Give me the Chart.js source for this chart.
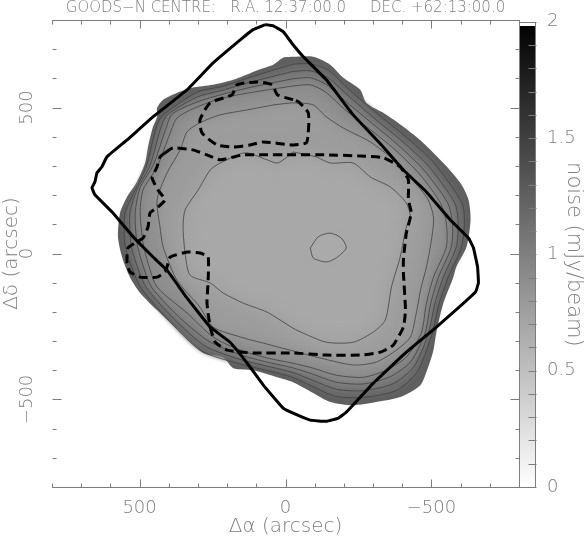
<!DOCTYPE html>
<html>
<head>
<meta charset="utf-8">
<script src="https://cdn.jsdelivr.net/npm/chart.js@4"></script>
<style>
  body { margin: 0; background: #fff; }
  canvas { position: absolute; top: 0; }
</style>
</head>
<body>
<canvas id="map" width="586" height="540" style="left:0"></canvas>
<canvas id="bar" width="67" height="540" style="left:519px"></canvas>
<script>
// everything in arcsec
const xTickLabels = [500, 0, -500];
const yTickLabels = [500, 0, -500];
const barTickLabels = [0, 0.5, 1, 1.5, 2];
const barRange = [0, 1.98];

const solidBox = [[70,784],[111,767],[155,732],[248,653],[337,561],[454,468],[543,389],[612,331],[629,297],[646,276],[653,245],[663,225],[653,201],[591,139],[522,57],[454,-12],[406,-57],[337,-153],[258,-252],[190,-304],[131,-376],[76,-451],[8,-530],[-26,-547],[-85,-571],[-140,-575],[-181,-564],[-208,-544],[-301,-444],[-414,-338],[-517,-252],[-651,-132],[-661,-101],[-658,-46],[-644,19],[-627,53],[-565,115],[-483,211],[-404,286],[-335,365],[-232,475],[-140,595],[-61,674],[-26,715],[8,760],[42,780]];
const dashLobe = [[-26,527],[28,544],[46,578],[97,588],[166,578],[183,544],[258,516],[293,458],[286,413],[234,372],[179,365],[121,372],[76,382],[-26,372],[-71,379],[-78,413],[-78,482],[-44,520]];
const dashMain = [[413,345],[385,362],[317,355],[269,338],[224,321],[145,338],[76,338],[-26,338],[-140,338],[-256,334],[-335,328],[-393,297],[-421,252],[-421,184],[-431,139],[-414,70],[-404,-22],[-404,-67],[-411,-194],[-404,-252],[-369,-314],[-325,-338],[-256,-348],[-140,-348],[-26,-341],[111,-341],[200,-331],[241,-304],[258,-252],[269,-170],[265,-91],[265,-12],[293,2],[337,5],[395,-12],[406,-46],[413,-63],[440,-81],[498,-81],[533,-63],[543,-33],[540,19],[488,53],[471,91],[464,139],[437,159],[413,184],[437,218],[457,259],[440,297],[430,331]];

const edge = [[-26,674],[8,671],[42,647],[94,629],[179,595],[248,578],[320,568],[371,551],[419,527],[440,499],[440,468],[454,434],[471,365],[481,310],[509,245],[543,194],[567,139],[574,57],[560,-12],[533,-81],[498,-135],[440,-194],[361,-269],[282,-341],[214,-355],[179,-393],[111,-400],[28,-424],[-26,-441],[-95,-478],[-153,-509],[-232,-520],[-311,-509],[-393,-492],[-462,-451],[-489,-389],[-507,-331],[-517,-269],[-541,-170],[-575,-81],[-585,-46],[-620,22],[-634,115],[-627,184],[-599,242],[-541,310],[-472,379],[-404,434],[-335,482],[-277,516],[-256,561],[-198,602],[-153,647],[-95,674]];
const ring6 = [[-26,649],[121,604],[214,573],[303,553],[424,470],[444,430],[476,300],[518,210],[550,139],[551,36],[532,-33],[497,-115],[407,-222],[290,-333],[155,-379],[63,-401],[-26,-425],[-95,-457],[-174,-490],[-267,-493],[-381,-469],[-452,-405],[-503,-273],[-527,-170],[-558,-81],[-603,22],[-613,105],[-605,173],[-505,315],[-410,402],[-314,480],[-220,560],[-147,628],[-85,650]];
const ring5 = [[-26,624],[121,587],[214,560],[303,536],[406,474],[428,428],[464,302],[508,220],[533,139],[530,36],[512,-33],[478,-115],[384,-222],[276,-317],[155,-363],[63,-386],[-26,-408],[-95,-435],[-174,-465],[-267,-470],[-369,-446],[-440,-388],[-490,-273],[-512,-170],[-541,-81],[-585,22],[-592,105],[-580,173],[-490,300],[-398,386],[-306,462],[-216,540],[-143,604],[-85,626]];
const ring4 = [[-26,599],[121,569],[214,546],[303,519],[388,478],[411,425],[452,305],[498,226],[515,139],[509,36],[491,-33],[459,-115],[360,-222],[262,-301],[155,-347],[63,-372],[-26,-392],[-95,-414],[-174,-441],[-267,-447],[-357,-423],[-428,-372],[-478,-273],[-498,-170],[-524,-81],[-568,22],[-572,105],[-556,173],[-475,285],[-388,370],[-298,445],[-210,518],[-140,579],[-85,602]];
const ring3 = [[-26,574],[121,551],[214,533],[303,502],[371,465],[395,413],[440,297],[488,218],[498,139],[488,36],[471,-33],[440,-115],[337,-204],[248,-286],[155,-331],[63,-358],[-26,-376],[-95,-393],[-174,-417],[-267,-424],[-345,-400],[-414,-355],[-465,-273],[-483,-170],[-507,-81],[-551,22],[-551,105],[-531,173],[-462,269],[-376,355],[-291,424],[-205,492],[-136,554],[-85,578]];
const ring2 = [[42,509],[131,492],[224,475],[293,448],[337,417],[361,355],[406,276],[440,184],[430,91],[419,22],[372,-91],[293,-184],[248,-252],[155,-286],[76,-307],[-26,-334],[-119,-358],[-232,-382],[-311,-372],[-380,-331],[-428,-286],[-448,-204],[-465,-115],[-483,-46],[-500,46],[-507,125],[-483,194],[-369,321],[-291,382],[-198,430],[-140,468],[-95,509],[-26,516]];
const ring1 = [[-26,348],[-6,331],[28,310],[63,321],[138,345],[224,310],[258,286],[299,218],[344,149],[351,91],[344,2],[327,-74],[258,-101],[214,-135],[145,-170],[63,-201],[-26,-256],[-61,-273],[-140,-304],[-232,-304],[-301,-269],[-342,-228],[-363,-115],[-393,-12],[-414,91],[-428,125],[-414,173],[-359,228],[-291,262],[-232,310],[-153,310],[-105,331]];
const innerSpot = [[-85,19],[-112,57],[-153,70],[-191,53],[-208,19],[-174,-15],[-140,-29],[-95,-15]];

const fillBands = [
  { pts: innerSpot, grey: '#aaaaaa', blur: 3 },
  { pts: ring1, grey: '#a8a8a8', blur: 10 },
  { pts: ring2, grey: '#9c9c9c', blur: 6 },
  { pts: ring3, grey: '#8f8f8f', blur: 4 },
  { pts: ring4, grey: '#838383', blur: 3 },
  { pts: ring5, grey: '#777777', blur: 2 },
  { pts: ring6, grey: '#6b6b6b', blur: 2 },
  { pts: edge, grey: '#5f5f5f', blur: 0 }
];
const contourLines = [innerSpot, ring1, ring2, ring3, ring4, ring5, ring6];

const inkGrey = '#7e7e7e';
const inkWeight = 200;
const axisFont = { family: 'DejaVu Sans', size: 18, weight: inkWeight };
const titleFont = { family: 'DejaVu Sans', size: 20, weight: inkWeight };

function closed(pts) {
  return pts.concat([pts[0]]).map(p => ({ x: p[0], y: p[1] }));
}

function outline(pts, width, colour, dash, tension) {
  return { data: closed(pts), showLine: true, pointRadius: 0, borderWidth: width, borderColor: colour, borderDash: dash, tension: tension, fill: false };
}

const datasets = [
  outline(solidBox, 3, '#000', [], 0.08),
  outline(dashLobe, 3, '#000', [9, 5], 0.2),
  outline(dashMain, 3, '#000', [9, 5], 0.15)
];
contourLines.forEach(c => datasets.push(outline(c, 0.8, '#404040', [], 0.25)));
fillBands.forEach(b => datasets.push({
  data: closed(b.pts), showLine: true, pointRadius: 0, borderWidth: 0, tension: 0.25,
  fill: 'shape', backgroundColor: b.grey, blurPx: b.blur
}));

// the fills get a blur so the bands run together like the real map
function setBlur(chart, i) {
  const ds = chart.data.datasets[i];
  chart.ctx.filter = ds && ds.blurPx ? 'blur(' + ds.blurPx + 'px)' : 'none';
}
const blurFills = {
  id: 'blurFills',
  beforeDatasetsDraw(chart) { setBlur(chart, chart.data.datasets.length - 1); },
  afterDatasetDraw(chart, args) { setBlur(chart, args.index - 1); },
  afterDatasetsDraw(chart) { chart.ctx.filter = 'none'; }
};

function tickLine(ctx, x1, y1, x2, y2) {
  ctx.beginPath();
  ctx.moveTo(Math.round(x1) + 0.5, Math.round(y1) + 0.5);
  ctx.lineTo(Math.round(x2) + 0.5, Math.round(y2) + 0.5);
  ctx.stroke();
}

// inward ticks on all sides, no left spine in the original
const mapFrame = {
  id: 'mapFrame',
  afterDraw(chart) {
    const { ctx, chartArea: a, scales } = chart;
    ctx.save();
    ctx.strokeStyle = '#7c7c7c';
    ctx.lineWidth = 1;
    tickLine(ctx, a.left, a.top, a.right, a.top);
    tickLine(ctx, a.left, a.bottom, a.right, a.bottom);
    scales.x.ticks.forEach(t => {
      const p = scales.x.getPixelForValue(t.value);
      const len = xTickLabels.includes(t.value) ? 8 : 4;
      tickLine(ctx, p, a.top, p, a.top + len);
      tickLine(ctx, p, a.bottom, p, a.bottom - len);
    });
    scales.y.ticks.forEach(t => {
      const p = scales.y.getPixelForValue(t.value);
      const len = yTickLabels.includes(t.value) ? 9 : 4;
      tickLine(ctx, a.left, p, a.left + len, p);
      tickLine(ctx, a.right, p, a.right - len, p);
    });
    ctx.restore();
  }
};

const barFrame = {
  id: 'barFrame',
  afterDraw(chart) {
    const { ctx, chartArea: a, scales } = chart;
    ctx.save();
    ctx.strokeStyle = '#7c7c7c';
    ctx.lineWidth = 1;
    ctx.strokeRect(Math.round(a.left) + 0.5, Math.round(a.top) + 0.5, Math.round(a.right - a.left) - 1, Math.round(a.bottom - a.top));
    scales.y.ticks.forEach(t => {
      const p = scales.y.getPixelForValue(t.value);
      tickLine(ctx, a.right, p, a.right - 8, p);
    });
    ctx.restore();
  }
};

new Chart(document.getElementById('map'), {
  type: 'scatter',
  data: { datasets: datasets },
  plugins: [blurFills, mapFrame],
  options: {
    responsive: false,
    animation: false,
    events: [],
    layout: { padding: { right: 67 } },
    plugins: {
      legend: { display: false },
      tooltip: { enabled: false },
      title: {
        display: true,
        fullSize: false,
        text: 'GOODS\u2212N CENTRE:   R.A. 12:37:00.0     DEC. +62:13:00.0',
        color: inkGrey,
        font: { family: 'DejaVu Sans', size: 15, weight: inkWeight, lineHeight: 1 },
        padding: { top: 1, bottom: 4 }
      }
    },
    scales: {
      x: {
        type: 'linear', reverse: true, min: -800, max: 800,
        grid: { display: false, drawTicks: false },
        border: { display: false },
        afterFit(s) { s.height = 53; },
        ticks: {
          stepSize: 100, autoSkip: false, maxRotation: 0, padding: 11, color: inkGrey, font: axisFont,
          callback: v => xTickLabels.includes(v) ? String(v).replace('-', '\u2212') : ''
        },
        title: { display: true, text: '\u0394\u03b1 (arcsec)', color: inkGrey, font: titleFont, padding: { top: 0, bottom: 1 } }
      },
      y: {
        min: -800, max: 800,
        grid: { display: false, drawTicks: false },
        border: { display: false },
        afterFit(s) { s.width = 52; },
        ticks: {
          stepSize: 100, autoSkip: false, minRotation: 90, maxRotation: 90, crossAlign: 'center', padding: 0, color: inkGrey, font: axisFont,
          callback: v => yTickLabels.includes(v) ? String(v).replace('-', '\u2212') : ''
        },
        title: { display: true, text: '\u0394\u03b4 (arcsec)', color: inkGrey, font: titleFont, padding: { top: 0, bottom: 0 } }
      }
    }
  }
});

new Chart(document.getElementById('bar'), {
  type: 'bar',
  data: {
    labels: ['noise'],
    datasets: [{
      data: [barRange],
      barPercentage: 1,
      categoryPercentage: 1,
      backgroundColor(c) {
        const area = c.chart.chartArea;
        if (!area) return '#888';
        const y = c.chart.scales.y;
        const g = c.chart.ctx.createLinearGradient(0, y.getPixelForValue(0), 0, y.getPixelForValue(2));
        g.addColorStop(0, '#fff');
        g.addColorStop(1, '#000');
        return g;
      }
    }]
  },
  plugins: [barFrame],
  options: {
    responsive: false,
    animation: false,
    events: [],
    layout: { padding: { top: 20, bottom: 53 } },
    plugins: { legend: { display: false }, tooltip: { enabled: false } },
    scales: {
      x: { display: false },
      y: {
        position: 'right', min: 0, max: 2,
        grid: { display: false, drawTicks: false },
        border: { display: false },
        afterFit(s) { s.width = 50; },
        ticks: {
          stepSize: 0.1, autoSkip: false, padding: 11, color: inkGrey, font: axisFont,
          callback: v => {
            const hit = barTickLabels.find(l => Math.abs(l - v) < 1e-6);
            return hit === undefined ? '' : String(hit);
          }
        },
        title: { display: true, text: 'noise (mJy/beam)', color: inkGrey, font: { family: 'DejaVu Sans', size: 21, weight: inkWeight }, padding: { top: 0, bottom: 2 } }
      }
    }
  }
});
</script>
</body>
</html>
